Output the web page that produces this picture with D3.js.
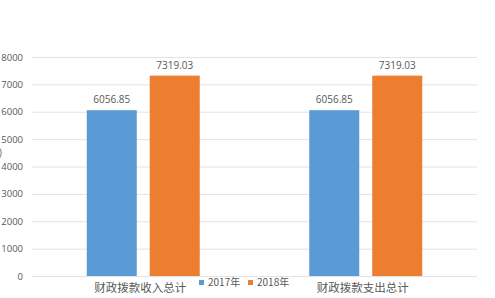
<!DOCTYPE html>
<html>
<head>
<meta charset="utf-8">
<script src="https://cdn.jsdelivr.net/npm/d3@7"></script>
<style>
  body { margin: 0; background: #fff; }
  text { font-family: "Noto Sans CJK SC", "Open Sans", sans-serif; fill: #595959; }
</style>
</head>
<body>
<div id="chart"></div>
<script>
const categories = ["财政拨款收入总计", "财政拨款支出总计"];
const seriesNames = ["2017年", "2018年"];
const values2017 = [6056.85, 6056.85];
const values2018 = [7319.03, 7319.03];
const yTicks = [0, 1000, 2000, 3000, 4000, 5000, 6000, 7000, 8000];
const colors = ["#5B9BD5", "#ED7D31"];

const width = 495, height = 298;
const margin = { left: 32, right: 18, top: 57, bottom: 22 };

const svg = d3.select("#chart").append("svg")
    .attr("width", width)
    .attr("height", height);

const x = d3.scaleBand()
    .domain(categories)
    .range([margin.left, width - margin.right]);

const y = d3.scaleLinear()
    .domain([0, 8000])
    .range([height - margin.bottom, margin.top]);

// gridlines
svg.append("g")
    .selectAll("line")
    .data(yTicks)
    .enter().append("line")
    .attr("x1", margin.left)
    .attr("x2", width - margin.right)
    .attr("y1", d => y(d) + 0.5)
    .attr("y2", d => y(d) + 0.5)
    .attr("stroke", "#e3e3e3")
    .attr("stroke-width", 1);

// y axis labels
const yAxis = svg.append("g")
    .attr("transform", `translate(${margin.left - 9},0)`)
    .call(d3.axisLeft(y).tickValues(yTicks).tickFormat(d3.format("d")).tickSize(0).tickPadding(0));
yAxis.select(".domain").remove();
yAxis.selectAll("text")
    .style("font-size", "9.5px")
    .style("fill", "#595959")
    .style("font-family", "'Open Sans', sans-serif");

// cut-off axis title
svg.append("text")
    .attr("x", -1)
    .attr("y", 156)
    .style("font-size", "10px")
    .text(")");

// bars inside each category: 50px wide, 13px gap, centred
const inner = x.bandwidth();
const x1 = d3.scaleBand()
    .domain([0, 1])
    .range([inner / 2 - 56.5, inner / 2 + 56.5])
    .paddingInner(0.206)
    .paddingOuter(0);

const series = [values2017, values2018];
series.forEach((vals, si) => {
  const g = svg.append("g");
  g.selectAll("rect")
    .data(vals)
    .enter().append("rect")
    .attr("x", (d, i) => x(categories[i]) + x1(si))
    .attr("y", d => y(d))
    .attr("width", x1.bandwidth())
    .attr("height", d => y(0) - y(d))
    .attr("fill", colors[si]);
  g.selectAll("text")
    .data(vals)
    .enter().append("text")
    .attr("x", (d, i) => x(categories[i]) + x1(si) + x1.bandwidth() / 2)
    .attr("y", d => y(d) - 7)
    .attr("text-anchor", "middle")
    .style("font-size", "10px")
    .style("font-family", "'Open Sans', sans-serif")
    .text(d => d.toFixed(2));
});

// category labels
svg.append("g")
    .selectAll("text")
    .data(categories)
    .enter().append("text")
    .attr("x", d => x(d) + x.bandwidth() / 2 - 3)
    .attr("y", 292)
    .attr("text-anchor", "middle")
    .style("font-size", "11.5px")
    .text(d => d);

// legend
const legend = svg.append("g");
const legendX = [199, 248];
seriesNames.forEach((name, i) => {
  legend.append("rect")
    .attr("x", legendX[i])
    .attr("y", 280)
    .attr("width", 5)
    .attr("height", 5)
    .attr("fill", colors[i]);
  legend.append("text")
    .attr("x", legendX[i] + 9)
    .attr("y", 286)
    .style("font-size", "10px")
    .text(name);
});
</script>
</body>
</html>
